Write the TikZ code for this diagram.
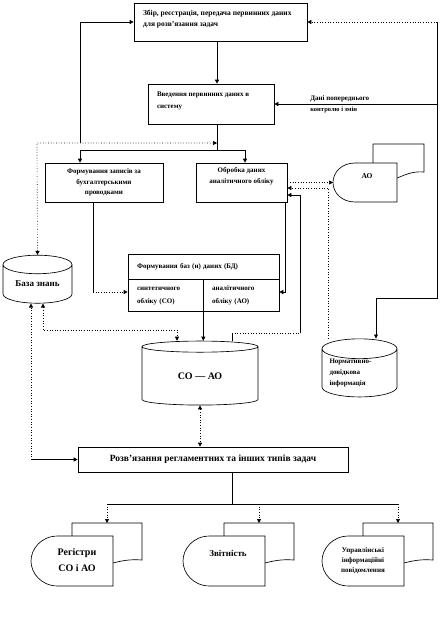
\documentclass[tikz,border=0pt]{standalone}
\usepackage{fontspec}
\setmainfont{Liberation Serif}
\usetikzlibrary{arrows.meta, positioning, shapes.geometric, calc}

\begin{document}
\begin{tikzpicture}[
    x=1pt, y=-1pt, line width=0.65pt,
    box/.style={draw, fill=white, inner sep=0pt},
    txt/.style={font=\fontsize{7}{10.5}\selectfont\bfseries, inner sep=0pt},
    big/.style={font=\fontsize{10}{15}\selectfont\bfseries, inner sep=0pt},
    base/.style={draw, fill=white, cylinder, shape border rotate=90, aspect=#1, inner sep=0pt},
    arr/.style={-{Triangle[length=4pt,width=4pt]}},
    darr/.style={{Triangle[length=4pt,width=4pt]}-{Triangle[length=4pt,width=4pt]}}
  ]
  \useasboundingbox (0,0) rectangle (440,629);

  % boxes
  \node[box, minimum width=173pt, minimum height=38pt] (zbir) at (220.5,22) {};
  \node[txt, font=\fontsize{7.5}{11}\selectfont\bfseries, anchor=north west, align=left] (zbirt) at ([xshift=9pt,yshift=-7pt]zbir.north west) {Збір, реєстрація, передача первинних даних\\для розв'язання задач};
  \node[box, minimum width=126pt, minimum height=40pt] (vvod) at (211,104) {};
  \node[txt, font=\fontsize{7}{12}\selectfont\bfseries, anchor=north west, align=left] (vvodt) at ([xshift=9pt,yshift=-8pt]vvod.north west) {Введення первинних даних в\\систему};
  \node[box, txt, minimum width=118pt, minimum height=39pt, align=center] (zapys) at (104,182.5) {Формування записів за\\бухгалтерськими\\проводками};
  \node[box, txt, minimum width=91pt, minimum height=39pt, align=center] (obrob) at (241.5,182.5) {Обробка даних\\аналітичного обліку\\[4pt]\mbox{}};

  \node[box, txt, minimum width=151pt, minimum height=25pt, text width=133pt, align=left] (bd) at (203.5,266.5) {Формування баз (и) даних (БД)};
  \node[box, txt, font=\fontsize{7}{13}\selectfont\bfseries, minimum width=75pt, minimum height=32pt, text width=57pt, align=left, anchor=north west] (sint) at (bd.south west) {синтетичного\\обліку (СО)};
  \node[box, txt, font=\fontsize{7}{13}\selectfont\bfseries, minimum width=76pt, minimum height=32pt, text width=58pt, align=left, anchor=north east] (anal) at (bd.south east) {аналітичного\\обліку (АО)};

  \node[base=0.42, big, font=\fontsize{9}{11}\selectfont\bfseries, minimum width=69pt, minimum height=48pt] (baza) at (37.5,284) {База знань};
  \node[base=0.25, big, minimum width=116pt, minimum height=64pt] (coao) at (200,376) {СО — АО};
  \node[base=0.33, txt, font=\fontsize{7}{11}\selectfont\bfseries, minimum width=75pt, minimum height=54pt, text width=60pt, align=left] (norm) at (359.5,373) {Нормативно-\\довідкова\\інформація};

  \node[box, big, font=\fontsize{9.5}{11}\selectfont\bfseries, minimum width=270pt, minimum height=25pt] (rozv) at (213,459.5) {Розв'язання регламентних та інших типів задач};

  % AO document
  \draw[fill=white] (373,172) -- (373,144) -- (424,144) -- (424,172) .. controls (412,171) and (405,175) .. (397,178) -- (373,178) -- cycle;
  \draw[fill=white] (397,163) -- (355,163) .. controls (342,163) and (333,172) .. (333,182.5) .. controls (333,193) and (342,202) .. (355,202) -- (397,202) -- cycle;
  \node[txt, font=\fontsize{7.5}{9}\selectfont\bfseries] (ao) at (367,176) {АО};
  \coordinate (aoL) at (333,182.5);

  % output documents
  \foreach \ax/\nm in {31/reg,183/zvit,322/upr}{
    \draw[fill=white] (\ax+41,523) -- (\ax+111,523) -- (\ax+111,560) .. controls (\ax+98,559) and (\ax+90,561) .. (\ax+82,563) -- (\ax+41,563) -- cycle;
    \draw[fill=white] (\ax+82,536) -- (\ax+27,536) .. controls (\ax+10,536) and (\ax,549) .. (\ax,561) .. controls (\ax,573) and (\ax+10,586) .. (\ax+27,586) -- (\ax+82,586) -- cycle;
    \coordinate (\nm) at (\ax+76,523);
  }
  \node[big] (regt) at (77,560) {\begin{tabular}{@{}c@{}}Регістри\\[1pt]СО і АО\end{tabular}};
  \node[big, font=\fontsize{9}{11}\selectfont\bfseries] (zvitt) at (228,553) {Звітність};
  \node[txt, font=\fontsize{7}{10}\selectfont\bfseries, align=center] (uprt) at (363,561) {Управлінські\\інформаційні\\повідомлення};

  % connectors
  \coordinate (br) at (217,150);
  \coordinate (zl) at (80,150);
  \coordinate (zr) at (245,150);
  \draw[arr] (zbir.south -| br) -- (br |- vvod.north);
  \draw (vvod.south -| br) -- (br);
  \draw[arr] (br) -- (zl) -- (zl |- zapys.north);
  \draw[arr] (br) -- (zr) -- (zr |- obrob.north);

  \coordinate (fb) at (37,143);
  \coordinate (up) at (80,143);
  \draw[darr, dotted] (fb -| br) -- (fb) -- (baza.north);
  \draw[arr] (up) -- (up |- zbir.west) -- (zbir.west);

  \coordinate (rt) at (437,22);
  \coordinate (rb) at (437,298);
  \coordinate (nt) at (376,298);
  \draw[arr, dotted] (rt) -- (zbir.east);
  \draw[arr] (rt) -- (rb) -- (nt) -- (nt |- norm.north);
  \draw[arr] (rt |- vvod.east) -- (vvod.east);
  \node[txt, anchor=south west] (dani) at (310,102) {Дані попереднього};
  \node[txt, font=\fontsize{6.5}{8}\selectfont\bfseries, anchor=north west] (kontr) at (310,107) {контролю і змін};

  \draw[arr, dotted] (obrob.east) -- (aoL);
  \coordinate (nd) at (328,188);
  \draw[arr, dotted] (nd |- norm.north) -- (nd) -- (nd -| obrob.east);
  \coordinate (cs) at (232,333);
  \coordinate (cr) at (300,333);
  \coordinate (cu) at (300,195);
  \draw (cs |- coao.north) -- (cs);
  \draw[dotted] (cs) -- (cr);
  \draw[arr] (cr) -- (cu) -- (cu -| obrob.east);

  \coordinate (oa) at (285,292);
  \draw[arr] (oa |- obrob.south) -- (oa) -- (oa -| anal.east);
  \coordinate (zs) at (93,292);
  \draw (zs |- zapys.south) -- (zs);
  \draw[arr, dotted] (zs) -- (zs -| sint.west);
  \draw[arr] (sint.south east) -- (sint.south east |- coao.north);

  \coordinate (bk) at (43,330);
  \coordinate (bc) at (177,330);
  \draw[darr, dotted] (bk |- baza.south) -- (bk) -- (bc) -- (bc |- coao.north);
  \coordinate (bz) at (31,459.5);
  \draw[arr] (bz) -- (rozv.west);
  \draw[arr, dotted] (bz) -- (bz |- baza.south);
  \draw[darr, dotted] (coao.south) -- (coao.south |- rozv.north);

  \coordinate (rs) at (232,504);
  \draw (rs |- rozv.south) -- (rs);
  \draw (reg |- rs) -- (upr |- rs);
  \foreach \nm in {reg,zvit,upr}
    \draw[arr, dotted] (\nm |- rs) -- (\nm);
\end{tikzpicture}
\end{document}
